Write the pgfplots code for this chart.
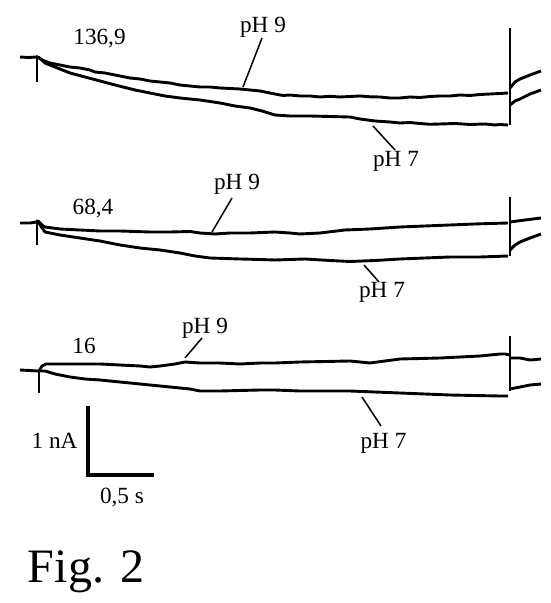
\documentclass[border=0pt]{standalone}
\usepackage{pgfplots}
\pgfplotsset{compat=1.18}
\usepackage{fontspec}
\setmainfont{Liberation Serif}

% trace styles
\pgfplotsset{
  trace/.style={black, line width=1.45pt, line join=round, no markers},
  thin trace/.style={black, line width=0.75pt, no markers},
  leader/.style={black, line width=0.75pt, no markers},
}
\newcommand{\lbl}{\fontsize{11.6}{13}\selectfont}

\begin{document}
\begin{tikzpicture}
\begin{axis}[
  width=275pt, height=301.5pt, scale only axis,
  xmin=0, xmax=550, ymin=0, ymax=603,
  y dir=reverse,
  axis lines=none,
  clip=false,
]
% keep the whole frame in the bounding box
\path (rel axis cs:0,0) rectangle (rel axis cs:1,1);

%% ---- 136,9 ----
\addplot[trace] coordinates {(20,57)(28,57.5)(37,57)(38,56)};
\addplot[thin trace] coordinates {(37,56)(37,82)};
% pH 9
\addplot[trace] coordinates {(38,57)(42,60)(50,63)(60,65)(70,67)(80,68)(90,70)(95,72)(105,73)(115,75)(130,78)(140,79)(150,81)(160,82)(170,83)(180,85)(190,86)(200,87)(210,87)(220,88)(230,88.5)(240,89)(250,90)(260,91)(275,94)(283,95.5)(290,95)(300,96)(310,96)(320,97)(330,96.3)(340,97)(350,96.5)(360,96)(370,96.8)(380,97)(390,98)(400,98)(410,97)(420,97.5)(430,96.5)(440,96)(450,96)(460,95)(470,95.5)(480,94.5)(490,94)(500,93.5)(508,93)};
% pH 7
\addplot[trace] coordinates {(38,57)(42,60)(45,63)(55,67)(70,73)(85,77)(100,81)(115,85)(135,90)(150,93)(165,96)(180,98)(200,100)(220,103)(235,106)(250,108)(262,111)(275,115)(290,116)(310,116)(330,116.5)(350,117)(360,119)(375,121)(390,122)(400,123)(410,122.5)(420,123.5)(430,124.3)(440,124)(455,123.5)(470,124.5)(485,124)(495,125)(500,124.5)(508,125)};
\addplot[thin trace] coordinates {(510,28)(510,125)};
\addplot[trace] coordinates {(510,88)(515,82)(520,79)(530,75)(541,71)};
\addplot[trace] coordinates {(510,105)(515,101)(520,99)(530,94)(541,90)};
\addplot[leader] coordinates {(262,38)(243,87)};
\addplot[leader] coordinates {(373,126)(395,150)};

%% ---- 68,4 ----
\addplot[trace] coordinates {(20,223)(30,223)(37,222)(38,220)};
\addplot[thin trace] coordinates {(37,220)(37,245)};
\addplot[trace] coordinates {(38,221)(42,225)(45,227)(60,229)(80,230)(100,231)(120,231)(150,232)(170,232)(190,231.5)(200,233)(215,234)(230,233)(250,233)(275,232)(290,233)(300,234)(320,233)(345,230)(370,229)(400,227)(425,226)(450,225)(475,224)(490,223.5)(508,223)};
\addplot[trace] coordinates {(38,221)(42,228)(45,232)(60,235)(80,238)(100,241)(120,245)(140,248)(160,250)(180,253)(195,256)(210,258)(225,258.5)(240,259)(260,259.5)(275,260)(290,259.5)(305,259)(330,260.5)(350,261.5)(375,260.5)(400,259)(425,258)(450,257)(480,257)(508,256)};
\addplot[thin trace] coordinates {(510,197)(510,256)};
\addplot[trace] coordinates {(510,222)(525,220)(541,218)};
\addplot[trace] coordinates {(510,250)(515,245)(520,242)(530,238)(541,234)};
\addplot[leader] coordinates {(232,198)(212,232)};
\addplot[leader] coordinates {(364,265)(379,282)};

%% ---- 16 ----
\addplot[trace] coordinates {(20,370)(30,370.5)(38,371)};
\addplot[thin trace] coordinates {(39,371)(39,393)};
\addplot[trace] coordinates {(39,371)(42,366)(46,364)(60,364)(80,364)(100,364)(120,365)(140,366)(150,367)(160,366)(175,364)(185,362)(200,363)(220,363)(240,364)(260,363)(275,363)(300,362)(325,361.5)(350,361)(370,363)(385,361)(400,359)(420,358.5)(440,358)(460,357)(480,356)(500,354)(505,354)(510,355)};
\addplot[trace] coordinates {(39,371)(45,371)(55,374)(70,377)(85,379)(100,380)(120,382)(150,385)(170,387)(190,389)(200,391)(220,391)(240,390.5)(260,390)(275,390)(300,391)(325,391)(350,391)(375,392)(400,393)(425,394)(450,395)(475,395.5)(500,396)(508,396)};
\addplot[thin trace] coordinates {(510,336)(510,391)};
\addplot[trace] coordinates {(510,358)(520,358)(530,360)(541,359)};
\addplot[trace] coordinates {(510,389)(520,387)(530,385)(541,384)};
\addplot[leader] coordinates {(202,338)(185,358)};
\addplot[leader] coordinates {(362,397)(381,426)};

%% scale bar
\addplot[black, line width=1.6pt, no markers] coordinates {(88,406)(88,475)(154,475)};

%% labels
\node[anchor=base] at (axis cs:99.5,45) {\lbl 136,9};
\node[anchor=base] at (axis cs:263,33) {\lbl pH 9};
\node[anchor=base] at (axis cs:396,167) {\lbl pH 7};
\node[anchor=base] at (axis cs:93,215) {\lbl 68,4};
\node[anchor=base] at (axis cs:237,190) {\lbl pH 9};
\node[anchor=base] at (axis cs:382,298) {\lbl pH 7};
\node[anchor=base] at (axis cs:84,353) {\lbl 16};
\node[anchor=base] at (axis cs:205,334) {\lbl pH 9};
\node[anchor=base] at (axis cs:383.5,448) {\lbl pH 7};
\node[anchor=base] at (axis cs:54.5,448) {\lbl 1 nA};
\node[anchor=base] at (axis cs:122,503) {\lbl 0,5 s};
\node[anchor=base] at (axis cs:86,582) {\fontsize{24}{28}\selectfont Fig. 2};

\end{axis}
\end{tikzpicture}
\end{document}
